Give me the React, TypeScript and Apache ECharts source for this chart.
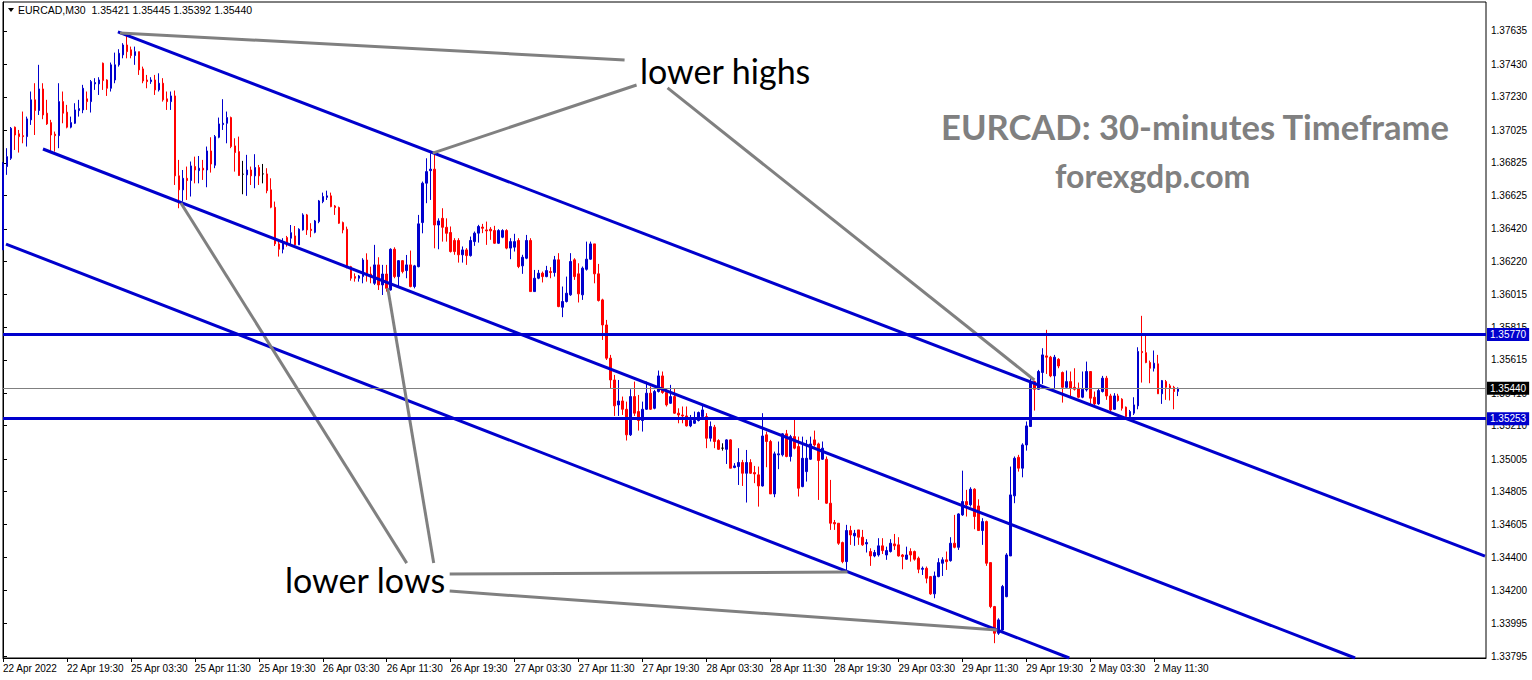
import React, { useEffect, useRef } from "react";
import * as echarts from "echarts";

// ---------- data ----------
const symbolLabel = "EURCAD,M30";
const headerOHLC = ["1.35421", "1.35445", "1.35392", "1.35440"];

const tickLabels = [
  "22 Apr 2022", "22 Apr 19:30", "25 Apr 03:30", "25 Apr 11:30", "25 Apr 19:30",
  "26 Apr 03:30", "26 Apr 11:30", "26 Apr 19:30", "27 Apr 03:30", "27 Apr 11:30",
  "27 Apr 19:30", "28 Apr 03:30", "28 Apr 11:30", "28 Apr 19:30", "29 Apr 03:30",
  "29 Apr 11:30", "29 Apr 19:30", "2 May 03:30", "2 May 11:30",
];
const barsPerTick = 16;
const totalSlots = 372; // bars + empty chart shift on the right

const priceTicks = [
  1.37635, 1.3743, 1.3723, 1.37025, 1.36825, 1.36625, 1.3642, 1.3622, 1.36015, 1.35815,
  1.35615, 1.3541, 1.3521, 1.35005, 1.34805, 1.34605, 1.344, 1.342, 1.33995, 1.33795,
];
const priceMin = 1.33783;
const priceMax = 1.37813;

// candles: [open, close, low, high] in points (1 point = 0.00001)
const candles = [
  [136290,136822,136290,136830],[136802,136863,136751,136915],[136853,137037,136843,137045],[137044,136996,136904,137048],
  [137003,136986,136888,137027],[136992,136986,136945,137140],[136986,137095,136925,137109],[137089,137212,137058,137263],
  [137212,137146,136996,137314],[137146,137279,137119,137427],[137279,137119,137093,137314],[137130,137064,137058,137212],
  [137072,136996,136894,137089],[137001,136992,136894,137017],[136992,137201,136915,137314],[137201,137130,137068,137263],
  [137136,137044,137037,137181],[137044,137072,137037,137109],[137068,137150,137064,137191],[137146,137158,137109,137212],
  [137150,137283,137130,137304],[137218,137201,137150,137263],[137201,137324,137134,137334],[137310,137318,137273,137345],
  [137310,137334,137242,137351],[137437,137330,137273,137441],[137334,137283,137236,137338],[137283,137427,137263,137441],
  [137334,137427,137314,137502],[137427,137498,137416,137523],[137488,137549,137467,137560],[137549,137508,137467,137611],
  [137519,137484,137467,137539],[137484,137508,137427,137539],[137508,137396,137365,137508],[137402,137328,137314,137416],
  [137334,137324,137283,137365],[137324,137334,137310,137351],[137334,137273,137242,137365],[137273,137314,137263,137375],
  [137314,137212,137201,137345],[137218,137201,137150,137263],[137201,137236,137150,137263],[137236,136745,136689,137269],
  [136745,136659,136546,136843],[136659,136730,136587,136781],[136730,136716,136597,136802],[136716,136806,136618,136833],
  [136802,136781,136699,136863],[136777,136792,136699,136867],[136792,136781,136720,136843],[136781,136898,136675,136925],
  [136898,136818,136765,136982],[136810,136986,136792,136996],[136982,137064,136976,137103],[137060,137068,137027,137216],
  [137068,137103,136945,137140],[137103,136925,136915,137109],[136929,136888,136771,136976],[136894,136747,136745,136986],
  [136755,136755,136632,136837],[136751,136781,136622,136874],[136781,136745,136689,136802],[136745,136796,136669,136878],
  [136796,136745,136689,136812],[136757,136757,136699,136818],[136757,136654,136638,136792],[136659,136552,136546,136730],
  [136552,136327,136314,136587],[136327,136294,136249,136341],[136294,136335,136269,136362],[136366,136327,136310,136376],
  [136362,136396,136327,136443],[136376,136321,136321,136437],[136321,136417,136321,136423],[136413,136505,136409,136515],
  [136505,136413,136382,136511],[136417,136409,136368,136454],[136398,136468,136392,136474],[136464,136591,136454,136597],
  [136587,136618,136577,136642],[136613,136622,136597,136654],[136622,136556,136552,136642],[136560,136550,136505,136566],
  [136550,136454,136450,136556],[136458,136413,136392,136464],[136417,136192,136177,136433],[136187,136116,136101,136192],
  [136126,136116,136095,136146],[136116,136130,136095,136136],[136126,136228,136085,136239],[136228,136136,136095,136269],
  [136142,136130,136085,136187],[136085,136198,136075,136321],[136198,136075,136044,136245],[136075,136142,136013,136198],
  [136142,136054,136034,136198],[136044,136294,136040,136300],[136294,136126,136116,136306],[136126,136224,136065,136228],
  [136224,136157,136146,136228],[136163,136198,136116,136259],[136198,136065,136060,136286],[136065,136192,136054,136198],
  [136187,136450,136183,136505],[136458,136700,136392,136710],[136700,136771,136577,136853],[136777,136786,136597,136884],
  [136786,136443,136300,136884],[136443,136468,136294,136484],[136484,136429,136341,136546],[136429,136392,136341,136484],
  [136397,136280,136274,136434],[136348,136280,136260,136362],[136348,136260,136212,136362],[136260,136290,136212,136311],
  [136290,136255,136198,136301],[136255,136348,136249,136372],[136341,136393,136315,136403],[136393,136434,136335,136444],
  [136430,136423,136393,136450],[136413,136407,136321,136464],[136417,136407,136352,136430],[136409,136331,136327,136438],
  [136331,136409,136327,136417],[136368,136409,136362,136417],[136409,136301,136294,136417],[136301,136341,136233,136362],
  [136307,136341,136280,136389],[136348,136188,136178,136362],[136192,136245,136143,136260],[136239,136348,136233,136382],
  [136348,136034,136034,136362],[136034,136116,136034,136167],[136116,136147,136110,136167],[136147,136126,136090,136157],
  [136126,136163,136122,136192],[136157,136151,136116,136184],[136151,136229,136126,136253],[136229,135942,135938,136270],
  [135938,135973,135877,136065],[135973,136024,135967,136126],[136014,136219,136008,136270],[136229,136126,136106,136239],
  [136143,136020,135967,136208],[136014,136178,135983,136188],[136171,136233,136163,136341],[136233,136327,136229,136341],
  [136327,136143,136085,136327],[136143,135979,135973,136204],[135983,135829,135737,135990],[135829,135625,135614,135860],
  [135625,135491,135440,135645],[135491,135332,135270,135522],[135338,135362,135270,135491],[135362,135311,135276,135389],
  [135311,135154,135119,135358],[135154,135389,135147,135434],[135389,135287,135270,135481],[135297,135242,135180,135399],
  [135242,135311,135174,135358],[135311,135410,135307,135481],[135410,135311,135307,135451],[135317,135420,135311,135430],
  [135420,135516,135414,135549],[135516,135414,135406,135543],[135414,135338,135328,135434],[135348,135389,135344,135461],
  [135389,135287,135283,135440],[135287,135276,135225,135317],[135276,135270,135225,135328],[135270,135209,135205,135328],
  [135209,135242,135201,135276],[135225,135242,135221,135297],[135242,135291,135236,135297],[135266,135307,135262,135332],
  [135266,135133,135072,135287],[135133,135205,135113,135236],[135201,135113,135072,135215],[135119,135065,135061,135127],
  [135072,135072,135057,135102],[135065,135123,134975,135127],[135123,134949,134949,135127],[134953,134963,134949,134980],
  [134959,134984,134846,135072],[134984,134918,134840,135000],[134918,134984,134738,135061],[134984,134918,134914,135004],
  [134922,134914,134857,134963],[134908,134840,134713,134959],[134840,135147,134836,135287],[135154,135113,134955,135174],
  [135113,134791,134791,135123],[134791,135037,134771,135051],[135031,135037,134943,135113],[135031,135160,135021,135164],
  [135160,135021,135016,135184],[135021,135143,134990,135154],[135143,135072,135065,135246],[135082,134826,134775,135143],
  [134836,135010,134832,135143],[134928,135010,134867,135123],[135004,135098,135000,135143],[135123,135092,135082,135180],
  [135098,134996,134754,135106],[135004,135072,135000,135113],[135004,134734,134730,135021],[134734,134611,134570,134877],
  [134615,134607,134570,134631],[134611,134488,134478,134611],[134492,134375,134365,134498],[134375,134566,134320,134601],
  [134566,134539,134478,134595],[134533,134549,134472,134570],[134570,134525,134478,134570],[134525,134478,134472,134570],
  [134484,134492,134431,134513],[134437,134410,134349,134457],[134410,134431,134402,134447],[134416,134472,134406,134519],
  [134472,134443,134422,134519],[134416,134443,134386,134467],[134437,134488,134431,134513],[134484,134472,134447,134545],
  [134478,134410,134406,134525],[134416,134406,134328,134422],[134390,134416,134386,134467],[134437,134416,134375,134457],
  [134437,134390,134381,134443],[134396,134328,134304,134406],[134328,134334,134293,134345],[134334,134273,134242,134345],
  [134283,134177,134171,134287],[134177,134287,134150,134314],[134283,134369,134279,134396],[134365,134386,134287,134402],
  [134386,134375,134324,134437],[134381,134488,134375,134525],[134488,134463,134457,134662],[134463,134668,134447,134672],
  [134662,134744,134656,134934],[134744,134724,134652,134816],[134724,134820,134713,134832],[134820,134652,134574,134826],
  [134717,134566,134566,134758],[134566,134621,134478,134642],[134621,134365,134349,134627],[134369,134099,134089,134369],
  [134099,133935,133874,134103],[133935,134017,133925,134027],[133955,134222,133951,134232],[134160,134416,134156,134427],
  [134410,134785,134410,134959],[134779,135010,134734,135021],[135016,134949,134928,135031],[134949,135092,134893,135102],
  [135092,135209,135057,135236],[135205,135475,135205,135512],[135481,135434,135303,135487],[135434,135543,135430,135553],
  [135537,135645,135467,135686],[135639,135631,135528,135799],[135631,135516,135508,135639],[135516,135631,135434,135645],
  [135618,135577,135563,135625],[135537,135446,135352,135543],[135446,135481,135440,135549],[135481,135440,135389,135543],
  [135446,135434,135426,135563],[135440,135385,135379,135475],[135385,135434,135379,135543],[135430,135543,135420,135604],
  [135543,135379,135344,135543],[135385,135344,135324,135420],[135344,135426,135338,135440],[135420,135502,135414,135516],
  [135502,135393,135369,135516],[135393,135307,135297,135406],[135311,135393,135307,135410],[135393,135365,135358,135406],
  [135373,135317,135303,135379],[135324,135266,135256,135328],[135266,135297,135246,135307],[135287,135338,135276,135385],
  [135332,135666,135311,135692],[135666,135659,135475,135885],[135659,135598,135594,135778],[135598,135563,135471,135610],
  [135563,135594,135543,135672],[135590,135406,135406,135645],[135406,135487,135344,135491],[135481,135446,135369,135491],
  [135455,135440,135365,135467],[135446,135420,135311,135455],[135421,135440,135392,135445],
];

const resistanceLevel = 1.3577;
const supportLevel = 1.35253;
const bidLevel = 1.3544;

// channel lines: [barIndex, price] endpoints
const channelLines = [
  [[28.75, 1.37629], [370.75, 1.34409]],
  [[10, 1.3691], [338.25, 1.33783]],
  [[0.75, 1.36326], [266.75, 1.33783]],
];
// grey pointer lines: [barIndex, price] endpoints
const pointerLines = [
  [[29.25, 1.37623], [155.5, 1.37457]],
  [[107.5, 1.36885], [158.5, 1.37303]],
  [[166.25, 1.37285], [258, 1.35491]],
  [[44.5, 1.36578], [101, 1.34366]],
  [[96.25, 1.36056], [107.75, 1.34366]],
  [[111.75, 1.34299], [211.25, 1.34311]],
  [[111.75, 1.34194], [248.75, 1.33955]],
];

// ---------- helpers ----------
const BLUE = "#0000CD";
const RED = "#FF0000";
const GREY = "#808080";
const MON = ["Jan", "Feb", "Mar", "Apr", "May", "Jun", "Jul", "Aug", "Sep", "Oct", "Nov", "Dec"];

function buildCategories(n: number): string[] {
  const out: string[] = [];
  let t = Date.UTC(2022, 3, 22, 11, 30);
  while (out.length < n) {
    const d = new Date(t);
    const wd = d.getUTCDay();
    if (wd !== 0 && wd !== 6) {
      const hh = String(d.getUTCHours()).padStart(2, "0");
      const mm = String(d.getUTCMinutes()).padStart(2, "0");
      out.push(`${d.getUTCDate()} ${MON[d.getUTCMonth()]} ${hh}:${mm}`);
    }
    t += 30 * 60 * 1000;
  }
  return out;
}

const lastTickIndex = (tickLabels.length - 1) * barsPerTick;
const tickInterval = (index: number) => index % barsPerTick === 0 && index <= lastTickIndex;

export default function App() {
  const ref = useRef<HTMLDivElement>(null);

  useEffect(() => {
    const chart = echarts.init(ref.current!, null, { renderer: "svg" });
    const categories = buildCategories(totalSlots);
    const candleData = candles.map((c) => {
      const [o, cl, l, h] = c.map((v) => v / 100000);
      const value = [o, cl, Math.min(l, o, cl), Math.max(h, o, cl)];
      if (c[0] === c[1]) {
        return { value, itemStyle: { color: "#000", color0: "#000", borderColor: "#000", borderColor0: "#000" } };
      }
      return value;
    });

    const tag = (bg: string) => ({
      show: true,
      position: "end",
      distance: 1,
      formatter: (p: any) => Number(p.value).toFixed(5),
      color: "#fff",
      backgroundColor: bg,
      padding: [2, 3, 1, 3],
      fontSize: 10,
      fontFamily: "Liberation Sans",
    });

    const lineSeries = (pts: number[][], color: string, width: number) => ({
      type: "line",
      xAxisIndex: 1,
      yAxisIndex: 0,
      data: pts,
      symbol: "none",
      silent: true,
      z: 6,
      lineStyle: { color, width },
    });

    const option: any = {
      animation: false,
      backgroundColor: "#ffffff",
      textStyle: { fontFamily: "Liberation Sans" },
      grid: { left: 3, right: 46, top: 2, bottom: 22, show: true, borderColor: "#000", borderWidth: 1 },
      xAxis: [
        {
          type: "category",
          data: categories,
          boundaryGap: false,
          axisLine: { show: true, lineStyle: { color: "#000", width: 1 } },
          axisTick: { show: true, interval: tickInterval, length: 4, lineStyle: { color: "#000" } },
          axisLabel: {
            show: true,
            interval: tickInterval,
            formatter: (_v: string, i: number) => tickLabels[Math.round(i / barsPerTick)] ?? "",
            align: "left",
            color: "#000",
            fontSize: 10,
            fontFamily: "Liberation Sans",
            margin: 5,
          },
          splitLine: { show: false },
        },
        { type: "value", min: 0, max: totalSlots - 1, show: false, splitLine: { show: false } },
      ],
      yAxis: {
        type: "value",
        position: "right",
        min: priceMin,
        max: priceMax,
        axisLine: { show: true, lineStyle: { color: "#000" } },
        axisTick: { show: true, length: 4, lineStyle: { color: "#000" }, customValues: priceTicks },
        axisLabel: {
          show: true,
          customValues: priceTicks,
          formatter: (v: number) => v.toFixed(5),
          color: "#000",
          fontSize: 10,
          fontFamily: "Liberation Sans",
          margin: 5,
        },
        splitLine: { show: false },
      },
      series: [
        {
          type: "candlestick",
          xAxisIndex: 0,
          yAxisIndex: 0,
          data: candleData,
          barWidth: 2,
          z: 3,
          itemStyle: {
            color: BLUE,
            color0: RED,
            borderColor: BLUE,
            borderColor0: RED,
            borderColorDoji: "#000",
            borderWidth: 1,
          },
          markLine: {
            silent: true,
            symbol: ["none", "none"],
            animation: false,
            precision: 5,
            z: 7,
            data: [
              { yAxis: bidLevel, lineStyle: { color: GREY, width: 1, type: "solid" }, label: tag("#000") },
              { yAxis: resistanceLevel, lineStyle: { color: BLUE, width: 3, type: "solid" }, label: tag(BLUE) },
              { yAxis: supportLevel, lineStyle: { color: BLUE, width: 3, type: "solid" }, label: tag(BLUE) },
            ],
          },
        },
        ...channelLines.map((p) => lineSeries(p, BLUE, 3)),
        ...pointerLines.map((p) => lineSeries(p, GREY, 3)),
      ],
      graphic: [
        {
          type: "polygon",
          shape: { points: [[8, 8], [14, 8], [11, 12]] },
          style: { fill: "#000" },
          z: 10,
        },
        {
          type: "text",
          x: 18,
          y: 10,
          z: 10,
          style: {
            text: `${symbolLabel}  ${headerOHLC.join(" ")}`,
            font: "10.5px 'Liberation Sans'",
            fill: "#000",
            textVerticalAlign: "middle",
            verticalAlign: "middle",
          },
        },
        {
          type: "text",
          x: 640,
          y: 70,
          z: 10,
          style: { text: "lower highs", font: "34px Lato", fill: "#000", textVerticalAlign: "middle", verticalAlign: "middle" },
        },
        {
          type: "text",
          x: 285,
          y: 579,
          z: 10,
          style: { text: "lower lows", font: "34px Lato", fill: "#000", textVerticalAlign: "middle", verticalAlign: "middle" },
        },
        {
          type: "text",
          x: 941,
          y: 126,
          z: 10,
          style: {
            text: "EURCAD: 30-minutes Timeframe",
            font: "bold 34.6px Lato",
            fill: GREY,
            textVerticalAlign: "middle",
            verticalAlign: "middle",
          },
        },
        {
          type: "text",
          x: 1055,
          y: 175,
          z: 10,
          style: {
            text: "forexgdp.com",
            font: "bold 32px Lato",
            fill: GREY,
            textVerticalAlign: "middle",
            verticalAlign: "middle",
          },
        },
      ],
    };

    chart.setOption(option);
    return () => chart.dispose();
  }, []);

  return (
    <div
      ref={ref}
      style={{ position: "fixed", left: 0, top: 0, width: 1532, height: 680, background: "#fff" }}
    />
  );
}
